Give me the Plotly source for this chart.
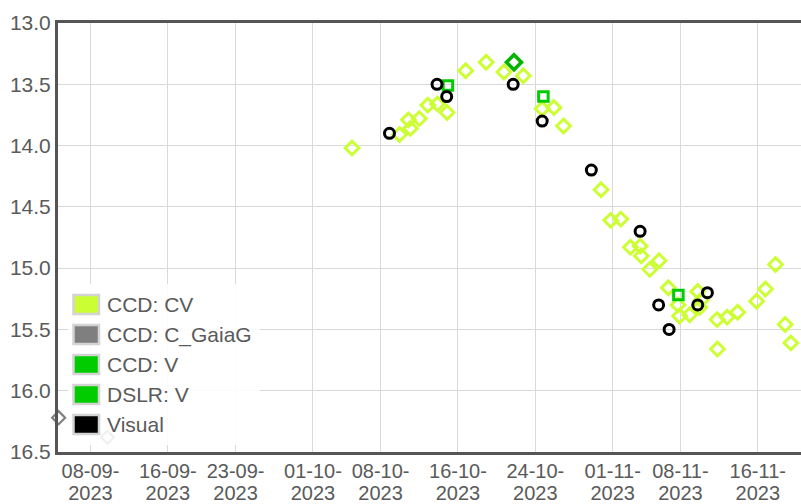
import plotly.graph_objects as go

# ---------------- data ----------------
cv_dates = ["2023-10-05 01:00", "2023-10-09 23:00", "2023-10-10 21:00", "2023-10-11 02:00",
            "2023-10-12 00:00", "2023-10-12 21:00", "2023-10-13 21:00", "2023-10-14 21:00",
            "2023-10-16 19:00", "2023-10-18 22:00", "2023-10-20 18:00", "2023-10-22 18:00",
            "2023-10-24 17:00", "2023-10-25 22:00", "2023-10-26 22:00", "2023-10-30 19:00",
            "2023-10-31 19:00", "2023-11-01 20:00", "2023-11-02 20:00", "2023-11-03 20:00",
            "2023-11-03 23:00", "2023-11-04 20:00", "2023-11-05 19:00", "2023-11-06 18:00",
            "2023-11-07 18:00", "2023-11-07 22:00", "2023-11-08 23:00", "2023-11-09 19:00",
            "2023-11-10 00:00", "2023-11-10 04:00", "2023-11-11 19:00", "2023-11-11 20:00",
            "2023-11-12 20:00", "2023-11-13 22:00", "2023-11-15 21:00", "2023-11-16 19:00",
            "2023-11-17 20:00", "2023-11-18 20:00", "2023-11-19 10:00"]
cv_mags = [14.02, 13.91, 13.79, 13.86,
           13.78, 13.67, 13.66, 13.73,
           13.39, 13.32, 13.40, 13.43,
           13.70, 13.69, 13.84, 14.36,
           14.61, 14.60, 14.83, 14.82,
           14.90, 15.01, 14.94, 15.16,
           15.30, 15.39, 15.38, 15.19,
           15.32, 15.26, 15.42, 15.66,
           15.40, 15.36, 15.27, 15.17,
           14.97, 15.46, 15.61]

gaia_dates = ["2023-09-04 17:00", "2023-09-09 18:00"]
gaia_mags = [16.22, 16.38]

ccdv_dates = ["2023-10-14 23:00", "2023-10-24 20:00", "2023-11-07 19:00"]
ccdv_mags = [13.51, 13.60, 15.22]

dslr_dates = ["2023-10-21 19:00"]
dslr_mags = [13.32]

vis_dates = ["2023-10-08 22:00", "2023-10-13 20:00", "2023-10-14 20:00", "2023-10-21 17:00",
             "2023-10-24 17:00", "2023-10-29 19:00", "2023-11-03 20:00", "2023-11-05 18:00",
             "2023-11-06 20:00", "2023-11-09 19:00", "2023-11-10 19:00"]
vis_mags = [13.90, 13.50, 13.60, 13.50,
            13.80, 14.20, 14.70, 15.30,
            15.50, 15.30, 15.20]

tick_dates = ["2023-09-08", "2023-09-16", "2023-09-23", "2023-10-01", "2023-10-08",
              "2023-10-16", "2023-10-24", "2023-11-01", "2023-11-08", "2023-11-16"]
tick_day = ["08-09-", "16-09-", "23-09-", "01-10-", "08-10-",
            "16-10-", "24-10-", "01-11-", "08-11-", "16-11-"]
tick_year = ["2023", "2023", "2023", "2023", "2023",
             "2023", "2023", "2023", "2023", "2023"]

legend_names = ["CCD: CV", "CCD: C_GaiaG", "CCD: V", "DSLR: V", "Visual"]
legend_colors = ["#ccff33", "#7f7f7f", "#00cc00", "#00cc00", "#000000"]

x_range = ["2023-09-04 15:24", "2023-11-20 11:17"]
y_range = [16.5, 13.0]

# ---------------- figure ----------------
W, H = 801, 504
ML, MR, MT, MB = 58, 0, 23, 52
PW, PH = W - ML - MR, H - MT - MB
FONT = "Liberation Sans, Arial, sans-serif"
TXT = "#5a5a5a"
FS = 21
FSX = 20


def px(x):
    return (x - ML) / PW


def py(y):
    return (H - MB - y) / PH


fig = go.Figure()

fig.add_trace(go.Scatter(x=cv_dates, y=cv_mags, mode="markers", name=legend_names[0],
                         marker=dict(symbol="diamond-open", size=10.5, color=legend_colors[0],
                                     line=dict(width=3, color=legend_colors[0])),
                         showlegend=False))
fig.add_trace(go.Scatter(x=gaia_dates, y=gaia_mags, mode="markers", name=legend_names[1],
                         cliponaxis=False,
                         marker=dict(symbol="diamond-open", size=10, color=legend_colors[1],
                                     line=dict(width=2.2, color=legend_colors[1])),
                         showlegend=False))
fig.add_trace(go.Scatter(x=ccdv_dates, y=ccdv_mags, mode="markers", name=legend_names[2],
                         marker=dict(symbol="square-open", size=9.5, color=legend_colors[2],
                                     line=dict(width=3, color=legend_colors[2])),
                         showlegend=False))
fig.add_trace(go.Scatter(x=dslr_dates, y=dslr_mags, mode="markers", name=legend_names[3],
                         marker=dict(symbol="diamond-open", size=11.5, color="#00b400",
                                     line=dict(width=3.6, color="#00b400")),
                         showlegend=False))
fig.add_trace(go.Scatter(x=vis_dates, y=vis_mags, mode="markers", name=legend_names[4],
                         marker=dict(symbol="circle-open", size=10, color=legend_colors[4],
                                     line=dict(width=3, color=legend_colors[4])),
                         showlegend=False))
# carrier for the second (year) tick-label row
fig.add_trace(go.Scatter(x=[], y=[], xaxis="x2", yaxis="y", mode="markers",
                         showlegend=False, hoverinfo="skip"))

# manual legend (semi-transparent white panel)
shapes = [dict(type="rect", xref="paper", yref="paper", layer="above",
               x0=px(68), x1=px(260), y0=py(445), y1=py(284),
               fillcolor="rgba(255,255,255,0.88)", line=dict(width=0))]
annotations = []
for i, (nm, col) in enumerate(zip(legend_names, legend_colors)):
    cy = 304.5 + 30 * i
    shapes.append(dict(type="rect", xref="paper", yref="paper", layer="above",
                       x0=px(73.5), x1=px(99), y0=py(cy + 9.5), y1=py(cy - 9.5),
                       fillcolor=col, line=dict(width=2.5, color="#d3d3d3")))
    annotations.append(dict(xref="paper", yref="paper", x=px(105), y=py(cy),
                            xanchor="left", yanchor="middle", showarrow=False,
                            text=nm, font=dict(family=FONT, size=FS, color=TXT)))

fig.update_layout(
    width=W, height=H, autosize=False,
    margin=dict(l=ML, r=MR, t=MT, b=MB, pad=0),
    paper_bgcolor="white", plot_bgcolor="white",
    showlegend=False,
    shapes=shapes, annotations=annotations,
    xaxis=dict(type="date", range=x_range, tickmode="array", tickvals=tick_dates,
               ticktext=tick_day, showgrid=True, gridcolor="#d9d9d9", gridwidth=1,
               showline=True, linecolor="#555555", linewidth=3, mirror=True,
               ticks="", zeroline=False, ticklabelstandoff=-1,
               tickfont=dict(family=FONT, size=FSX, color=TXT)),
    xaxis2=dict(type="date", range=x_range, overlaying="x", anchor="y", side="bottom",
                tickmode="array", tickvals=tick_dates, ticktext=tick_year,
                showgrid=False, showline=False, ticks="", zeroline=False,
                ticklabelstandoff=27,
                tickfont=dict(family=FONT, size=FSX, color=TXT)),
    yaxis=dict(range=y_range, tickmode="linear", tick0=13.0, dtick=0.5, tickformat=".1f",
               showgrid=True, gridcolor="#d9d9d9", gridwidth=1,
               showline=True, linecolor="#555555", linewidth=3, mirror=False,
               ticks="", zeroline=False, ticklabelstandoff=0,
               tickfont=dict(family=FONT, size=FS, color=TXT)),
)

fig.write_html("out.html")
